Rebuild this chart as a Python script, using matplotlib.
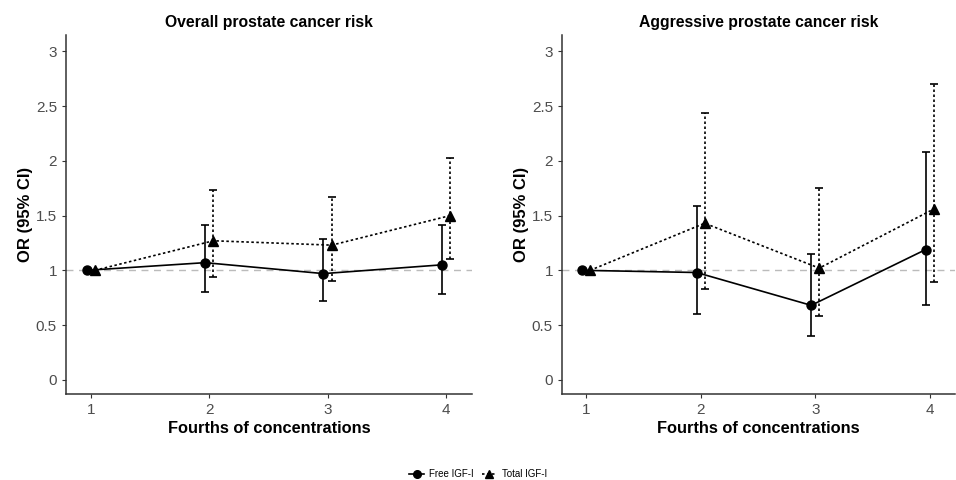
import numpy as np
import matplotlib
matplotlib.use("Agg")
from matplotlib import pyplot as plt
from matplotlib.lines import Line2D

plt.rcParams['font.family'] = ['Liberation Sans', 'DejaVu Sans']

# quarters of concentration
quarters = [1, 2, 3, 4]

# overall prostate cancer risk
free_all = [1.0, 1.07, 0.97, 1.05]
free_all_lo = [1.0, 0.80, 0.72, 0.78]
free_all_hi = [1.0, 1.41, 1.29, 1.41]
total_all = [1.0, 1.27, 1.23, 1.50]
total_all_lo = [1.0, 0.94, 0.90, 1.10]
total_all_hi = [1.0, 1.73, 1.67, 2.03]

# aggressive prostate cancer risk
free_agg = [1.0, 0.98, 0.68, 1.19]
free_agg_lo = [1.0, 0.60, 0.40, 0.68]
free_agg_hi = [1.0, 1.59, 1.15, 2.08]
total_agg = [1.0, 1.43, 1.02, 1.56]
total_agg_lo = [1.0, 0.83, 0.58, 0.89]
total_agg_hi = [1.0, 2.44, 1.75, 2.70]

titles = ["Overall prostate cancer risk", "Aggressive prostate cancer risk"]
yticks = [0, 0.5, 1, 1.5, 2, 2.5, 3]
ytick_labels = ["0", "0.5", "1", "1.5", "2", "2.5", "3"]

fig = plt.figure(figsize=(9.56, 4.8), dpi=100)
ax1 = fig.add_axes([66/956, 1-394/480, 406/956, 359/480])
ax2 = fig.add_axes([562/956, 1-394/480, 393/956, 359/480])

panels = [
    (ax1, free_all, free_all_lo, free_all_hi, total_all, total_all_lo, total_all_hi),
    (ax2, free_agg, free_agg_lo, free_agg_hi, total_agg, total_agg_lo, total_agg_hi),
]

dodge = 0.035
tick_col = "#4D4D4D"
dotted = (0, (1.5, 1.5))

for i, (ax, f, flo, fhi, t, tlo, thi) in enumerate(panels):
    x = np.array(quarters, dtype=float)
    xf = x - dodge
    xt = x + dodge
    f = np.array(f); t = np.array(t)
    ferr = [f - np.array(flo), np.array(fhi) - f]
    terr = [t - np.array(tlo), np.array(thi) - t]

    ax.axhline(1, color="#BBBBBB", lw=1, ls=(0, (5, 4)), zorder=1)

    # free IGF-I: solid
    ax.plot(xf, f, color="black", lw=1.2, ls="-", zorder=3)
    ax.errorbar(xf[1:], f[1:], yerr=[ferr[0][1:], ferr[1][1:]], fmt="none",
                ecolor="black", elinewidth=1.2, capsize=3, capthick=1.2, zorder=3)
    ax.plot(xf, f, "o", color="black", ms=6.5, zorder=4)

    # total IGF-I: dotted
    ax.plot(xt, t, color="black", lw=1.2, ls=dotted, zorder=3)
    eb2 = ax.errorbar(xt[1:], t[1:], yerr=[terr[0][1:], terr[1][1:]], fmt="none",
                      ecolor="black", elinewidth=1.2, capsize=3, capthick=1.2, zorder=3)
    for c in eb2[2]:
        c.set_linestyle(dotted)
    ax.plot(xt, t, "^", color="black", ms=7, zorder=4)

    ax.set_xlim(0.79, 4.22)
    ax.set_ylim(-0.13, 3.15)
    ax.set_xticks(quarters)
    ax.set_xticklabels([str(q) for q in quarters])
    ax.set_yticks(yticks)
    ax.set_yticklabels(ytick_labels)
    ax.tick_params(colors="#333333", labelcolor=tick_col, labelsize=11, length=3, width=0.8)
    for s in ["top", "right"]:
        ax.spines[s].set_visible(False)
    for s in ["left", "bottom"]:
        ax.spines[s].set_color("#333333")
        ax.spines[s].set_linewidth(1.1)
    ax.set_title(titles[i], fontsize=11.3, fontweight="bold", pad=6)
    ax.set_xlabel("Fourths of concentrations", fontsize=11.8, fontweight="bold", labelpad=3)
    ax.set_ylabel("OR (95% CI)", fontsize=12, fontweight="bold", labelpad=2)

handles = [
    Line2D([], [], color="black", lw=1.2, ls="-", marker="o", ms=5.5),
    Line2D([], [], color="black", lw=1.2, ls=dotted, marker="^", ms=5.5),
]
fig.legend(handles, ["Free IGF-I", "Total IGF-I"], loc="center", bbox_to_anchor=(0.5, 1-474/480),
           ncol=2, frameon=False, fontsize=7, handlelength=1.6, handletextpad=0.5, columnspacing=0.8)

fig.savefig("out.png", dpi=100)
